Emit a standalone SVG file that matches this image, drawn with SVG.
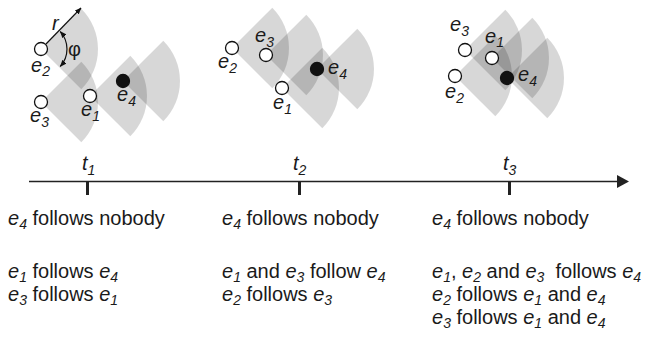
<svg xmlns="http://www.w3.org/2000/svg" xmlns:xlink="http://www.w3.org/1999/xlink" width="650" height="338" viewBox="0 0 650 338">
  <style>
    .fov { fill: #000; fill-opacity: 0.155; }
    .ent { fill: #fff; stroke: #111; stroke-width: 1.3; }
    .lead { fill: #111; stroke: #111; stroke-width: 1.3; }
    .txt { font-family: "Liberation Sans", Arial, Helvetica, sans-serif; font-size: 20px; fill: #1a1a1a; }
    .it { font-style: italic; }
    .sub { font-size: 14px; font-style: italic; }
    .dim { fill: none; stroke: #111; stroke-width: 1.2; }
    .axis { stroke: #222; stroke-width: 1.5; fill: none; }
    .tick { stroke: #222; stroke-width: 3; }
  </style>
  <defs>
    <!-- field of view: 90 degree sector of radius r, apex at the entity, facing +x -->
    <path id="sector" d="M0 0 L40.3 -40.3 A57 57 0 0 1 40.3 40.3 Z"/>
    <marker id="head" viewBox="0 0 10 10" refX="9" refY="5" markerWidth="7" markerHeight="7" orient="auto-start-reverse" markerUnits="userSpaceOnUse">
      <path d="M0 1 L10 5 L0 9 Z" fill="#111"/>
    </marker>
  </defs>

  <!-- snapshot t1 -->
  <g id="snapshot-t1">
    <g class="fov">
      <use xlink:href="#sector" x="41" y="49"/>
      <use xlink:href="#sector" x="41" y="102"/>
      <use xlink:href="#sector" x="90" y="96"/>
      <use xlink:href="#sector" x="123" y="81"/>
    </g>
    <g id="t1-legend">
      <line class="dim" x1="46" y1="44" x2="81" y2="8" marker-end="url(#head)"/>
      <text class="txt it" x="52" y="30" font-size="19">r</text>
      <path class="dim" d="M60.3 31.6 A26 26 0 0 1 60.3 66.4" marker-start="url(#head)" marker-end="url(#head)"/>
      <text class="txt" x="68" y="56" font-size="19">φ</text>
    </g>
    <g id="t1-e2"><circle class="ent" cx="41" cy="49" r="6.5"/>
      <text class="txt"><tspan class="it" x="31" y="72">e</tspan><tspan class="sub" dy="4">2</tspan></text></g>
    <g id="t1-e3"><circle class="ent" cx="41" cy="102" r="6.5"/>
      <text class="txt"><tspan class="it" x="30" y="122">e</tspan><tspan class="sub" dy="5">3</tspan></text></g>
    <g id="t1-e1"><circle class="ent" cx="90" cy="96" r="6.5"/>
      <text class="txt"><tspan class="it" x="81" y="116">e</tspan><tspan class="sub" dy="5">1</tspan></text></g>
    <g id="t1-e4"><circle class="lead" cx="123" cy="81" r="6.5"/>
      <text class="txt"><tspan class="it" x="117" y="101">e</tspan><tspan class="sub" dy="5">4</tspan></text></g>
  </g>

  <!-- snapshot t2 -->
  <g id="snapshot-t2">
    <g class="fov">
      <use xlink:href="#sector" x="232" y="48"/>
      <use xlink:href="#sector" x="266" y="55"/>
      <use xlink:href="#sector" x="282" y="88"/>
      <use xlink:href="#sector" x="317" y="69"/>
    </g>
    <g id="t2-e2"><circle class="ent" cx="232" cy="48" r="6.5"/>
      <text class="txt"><tspan class="it" x="218" y="68">e</tspan><tspan class="sub" dy="5">2</tspan></text></g>
    <g id="t2-e3"><circle class="ent" cx="266" cy="55" r="6.5"/>
      <text class="txt"><tspan class="it" x="255" y="42">e</tspan><tspan class="sub" dy="5">3</tspan></text></g>
    <g id="t2-e1"><circle class="ent" cx="282" cy="88" r="6.5"/>
      <text class="txt"><tspan class="it" x="273" y="109">e</tspan><tspan class="sub" dy="5">1</tspan></text></g>
    <g id="t2-e4"><circle class="lead" cx="317" cy="69" r="6.5"/>
      <text class="txt"><tspan class="it" x="328" y="74">e</tspan><tspan class="sub" dy="5">4</tspan></text></g>
  </g>

  <!-- snapshot t3 -->
  <g id="snapshot-t3">
    <g class="fov">
      <use xlink:href="#sector" x="465" y="50"/>
      <use xlink:href="#sector" x="492" y="58"/>
      <use xlink:href="#sector" x="455" y="76"/>
      <use xlink:href="#sector" x="507" y="78"/>
    </g>
    <g id="t3-e3"><circle class="ent" cx="465" cy="50" r="6.5"/>
      <text class="txt"><tspan class="it" x="450" y="31">e</tspan><tspan class="sub" dy="5">3</tspan></text></g>
    <g id="t3-e1"><circle class="ent" cx="492" cy="58" r="6.5"/>
      <text class="txt"><tspan class="it" x="485" y="43">e</tspan><tspan class="sub" dy="4">1</tspan></text></g>
    <g id="t3-e2"><circle class="ent" cx="455" cy="76" r="6.5"/>
      <text class="txt"><tspan class="it" x="445" y="98">e</tspan><tspan class="sub" dy="5">2</tspan></text></g>
    <g id="t3-e4"><circle class="lead" cx="507" cy="78" r="6.5"/>
      <text class="txt"><tspan class="it" x="518" y="81">e</tspan><tspan class="sub" dy="5">4</tspan></text></g>
  </g>

  <!-- time axis -->
  <g id="timeline">
    <line class="axis" x1="29" y1="181.5" x2="619" y2="181.5"/>
    <path d="M617 175 L629 181.5 L617 188 Z" fill="#222"/>
    <line class="tick" x1="87.5" y1="182" x2="87.5" y2="195"/>
    <line class="tick" x1="299.5" y1="182" x2="299.5" y2="195"/>
    <line class="tick" x1="509.5" y1="182" x2="509.5" y2="195"/>
    <text class="txt"><tspan class="it" x="82" y="170">t</tspan><tspan class="sub" dy="5">1</tspan></text>
    <text class="txt"><tspan class="it" x="293" y="170">t</tspan><tspan class="sub" dy="5">2</tspan></text>
    <text class="txt"><tspan class="it" x="503" y="170">t</tspan><tspan class="sub" dy="5">3</tspan></text>
  </g>

  <!-- follower relations per snapshot -->
  <g id="relations-t1" class="txt">
    <text><tspan class="it" x="8" y="225">e</tspan><tspan class="sub" dy="4">4</tspan><tspan dy="-4"> follows nobody</tspan></text>
    <text><tspan class="it" x="8" y="278">e</tspan><tspan class="sub" dy="4">1</tspan><tspan dy="-4"> follows </tspan><tspan class="it">e</tspan><tspan class="sub" dy="4">4</tspan></text>
    <text><tspan class="it" x="8" y="301">e</tspan><tspan class="sub" dy="4">3</tspan><tspan dy="-4"> follows </tspan><tspan class="it">e</tspan><tspan class="sub" dy="4">1</tspan></text>
  </g>
  <g id="relations-t2" class="txt">
    <text><tspan class="it" x="222" y="225">e</tspan><tspan class="sub" dy="4">4</tspan><tspan dy="-4"> follows nobody</tspan></text>
    <text><tspan class="it" x="222" y="278">e</tspan><tspan class="sub" dy="4">1</tspan><tspan dy="-4"> and </tspan><tspan class="it">e</tspan><tspan class="sub" dy="4">3</tspan><tspan dy="-4"> follow </tspan><tspan class="it">e</tspan><tspan class="sub" dy="4">4</tspan></text>
    <text><tspan class="it" x="222" y="301">e</tspan><tspan class="sub" dy="4">2</tspan><tspan dy="-4"> follows </tspan><tspan class="it">e</tspan><tspan class="sub" dy="4">3</tspan></text>
  </g>
  <g id="relations-t3" class="txt">
    <text><tspan class="it" x="432" y="225">e</tspan><tspan class="sub" dy="4">4</tspan><tspan dy="-4"> follows nobody</tspan></text>
    <text xml:space="preserve"><tspan class="it" x="432" y="278">e</tspan><tspan class="sub" dy="4">1</tspan><tspan dy="-4">, </tspan><tspan class="it">e</tspan><tspan class="sub" dy="4">2</tspan><tspan dy="-4"> and </tspan><tspan class="it">e</tspan><tspan class="sub" dy="4">3</tspan><tspan dy="-4">  follows </tspan><tspan class="it">e</tspan><tspan class="sub" dy="4">4</tspan></text>
    <text><tspan class="it" x="432" y="301">e</tspan><tspan class="sub" dy="4">2</tspan><tspan dy="-4"> follows </tspan><tspan class="it">e</tspan><tspan class="sub" dy="4">1</tspan><tspan dy="-4"> and </tspan><tspan class="it">e</tspan><tspan class="sub" dy="4">4</tspan></text>
    <text><tspan class="it" x="432" y="324">e</tspan><tspan class="sub" dy="4">3</tspan><tspan dy="-4"> follows </tspan><tspan class="it">e</tspan><tspan class="sub" dy="4">1</tspan><tspan dy="-4"> and </tspan><tspan class="it">e</tspan><tspan class="sub" dy="4">4</tspan></text>
  </g>
</svg>
